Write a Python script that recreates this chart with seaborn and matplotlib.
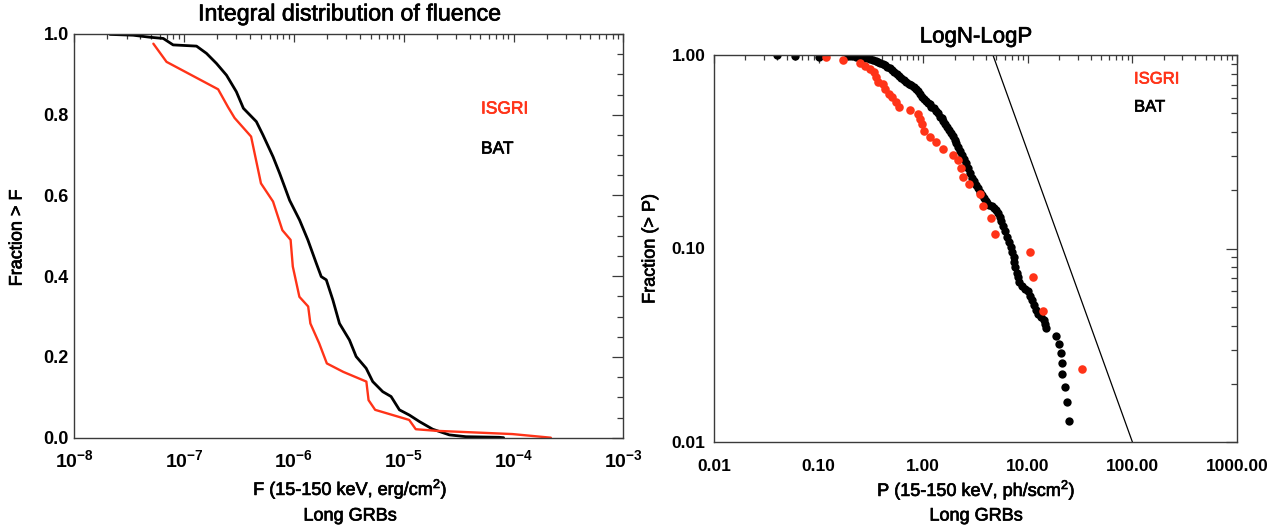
import numpy as np
import pandas as pd
import matplotlib
matplotlib.use("Agg")
import matplotlib.pyplot as plt
import matplotlib.patheffects as pe
import seaborn as sns
from matplotlib.ticker import LogLocator, MultipleLocator, FuncFormatter, NullFormatter, FixedLocator

# ---------------- data ----------------
# Left panel: integral distribution of fluence (log10 F, fraction > F)
bat_logF = [-7.675, -7.464, -7.312, -7.19, -7.10, -6.887, -6.796, -6.705, -6.614, -6.524,
            -6.46, -6.342, -6.282, -6.19, -6.13, -6.085, -6.039, -5.948, -5.873, -5.796,
            -5.751, -5.705, -5.645, -5.585, -5.494, -5.433, -5.342, -5.282, -5.191, -5.115,
            -5.039, -4.948, -4.857, -4.736, -4.585, -4.433, -4.13, -4.09]
bat_fracF = [0.999, 0.997, 0.992, 0.989, 0.973, 0.970, 0.952, 0.927, 0.898, 0.857,
             0.816, 0.783, 0.750, 0.696, 0.655, 0.622, 0.588, 0.539, 0.490, 0.432,
             0.399, 0.391, 0.341, 0.283, 0.242, 0.201, 0.172, 0.139, 0.114, 0.102,
             0.069, 0.056, 0.040, 0.021, 0.007, 0.0025, 0.001, 0.0]

isgri_logF = [-7.28, -7.16, -6.69, -6.60, -6.54, -6.39, -6.30, -6.19, -6.105, -6.03,
              -6.01, -5.95, -5.87, -5.85, -5.77, -5.70, -5.55, -5.34, -5.32, -5.26,
              -4.95, -4.89, -4.70, -4.01, -3.66]
isgri_fracF = [0.976, 0.931, 0.863, 0.819, 0.792, 0.746, 0.630, 0.585, 0.514, 0.490,
               0.424, 0.349, 0.325, 0.283, 0.234, 0.184, 0.163, 0.139, 0.093, 0.069,
               0.044, 0.021, 0.017, 0.009, 0.0]

# Right panel: LogN-LogP (peak flux P, fraction > P)
bat_P = [0.040, 0.060, 0.10, 0.19, 0.21, 0.23, 0.25, 0.27, 0.29, 0.31,
         0.33, 0.35, 0.37, 0.39, 0.41, 0.43, 0.45, 0.48, 0.50, 0.53,
         0.56, 0.59, 0.62, 0.65, 0.69, 0.73, 0.77, 0.81, 0.85, 0.89,
         0.93, 0.97, 1.01, 1.06, 1.10, 1.15, 1.20, 1.26, 1.32, 1.38,
         1.44, 1.50, 1.56, 1.62, 1.68, 1.75, 1.83, 1.91, 2.00, 2.08,
         2.16, 2.25, 2.35, 2.45, 2.56, 2.68, 2.80, 2.92, 3.05, 3.20,
         3.35, 3.50, 3.65, 3.80, 3.95, 4.10, 4.30, 4.50, 4.75, 5.00,
         5.20, 5.40, 5.60, 5.80, 6.00, 6.30, 6.60, 6.90, 7.10, 7.30,
         7.45, 7.60, 7.80, 8.00, 8.30, 8.80, 9.40, 10.0, 10.5, 11.0,
         11.5, 12.0, 12.6, 13.4, 14.2, 14.7, 14.8, 18.7, 19.7, 20.9,
         21.0, 21.3, 22.8, 23.6, 24.5]
bat_fracP = [1.0, 0.99, 0.98, 0.985, 0.985, 0.98, 0.975, 0.97, 0.96, 0.955,
             0.945, 0.935, 0.925, 0.91, 0.90, 0.885, 0.87, 0.855, 0.84, 0.82,
             0.80, 0.78, 0.76, 0.74, 0.725, 0.71, 0.70, 0.685, 0.665, 0.65,
             0.63, 0.61, 0.595, 0.58, 0.565, 0.555, 0.54, 0.53, 0.515, 0.50,
             0.48, 0.47, 0.455, 0.44, 0.425, 0.41, 0.395, 0.38, 0.365, 0.35,
             0.335, 0.32, 0.305, 0.29, 0.275, 0.26, 0.245, 0.232, 0.222, 0.212,
             0.205, 0.197, 0.19, 0.183, 0.177, 0.172, 0.168, 0.165, 0.162, 0.158,
             0.152, 0.145, 0.138, 0.130, 0.123, 0.115, 0.108, 0.102, 0.096, 0.090,
             0.085, 0.080, 0.075, 0.071, 0.067, 0.064, 0.062, 0.060, 0.057, 0.054,
             0.051, 0.048, 0.046, 0.0445, 0.0425, 0.0405, 0.0387, 0.0353, 0.0321, 0.0287,
             0.0257, 0.0225, 0.0192, 0.0161, 0.0129]

isgri_P = [0.118, 0.171, 0.25, 0.28, 0.31, 0.34, 0.355, 0.37, 0.41, 0.43,
           0.47, 0.50, 0.55, 0.59, 0.74, 0.89, 0.93, 0.97, 1.02, 1.17,
           1.34, 1.56, 1.92, 2.16, 2.30, 2.41, 2.77, 3.51, 3.72, 4.40,
           4.88, 10.4, 11.3, 14.1, 32.8]
isgri_fracP = [0.975, 0.945, 0.912, 0.879, 0.851, 0.818, 0.77, 0.725, 0.71, 0.668,
               0.63, 0.605, 0.574, 0.536, 0.521, 0.494, 0.466, 0.438, 0.405, 0.378,
               0.354, 0.328, 0.305, 0.285, 0.26, 0.235, 0.215, 0.191, 0.166, 0.143,
               0.119, 0.0956, 0.0715, 0.0477, 0.0238]

# Euclidean -3/2 reference line
ref_P = [4.64, 100.0]
ref_frac = [1.0, 0.01]

RED = "#ff3318"

# ---------------- style ----------------
sns.set_style("white")
plt.rcParams['font.family'] = ['Liberation Sans', 'DejaVu Sans']
plt.rcParams['mathtext.fontset'] = 'custom'
plt.rcParams['mathtext.rm'] = 'Liberation Sans'
plt.rcParams['mathtext.bf'] = 'Liberation Sans:bold'
plt.rcParams['text.color'] = 'black'
plt.rcParams['axes.labelcolor'] = 'black'
plt.rcParams['xtick.color'] = 'black'
plt.rcParams['ytick.color'] = 'black'

fig = plt.figure(figsize=(12.85, 5.31), dpi=100)
W, H = 1285.0, 531.0

def axes_px(x0, y0, x1, y1):
    return fig.add_axes([x0 / W, 1 - y1 / H, (x1 - x0) / W, (y1 - y0) / H])

ax1 = axes_px(74.3, 34.0, 623.3, 437.7)
ax2 = axes_px(714.0, 55.0, 1237.0, 442.0)

# ---------------- left panel ----------------
left_df_bat = pd.DataFrame({"F": np.power(10.0, bat_logF), "frac": bat_fracF})
left_df_isg = pd.DataFrame({"F": np.power(10.0, isgri_logF), "frac": isgri_fracF})
sns.lineplot(data=left_df_bat, x="F", y="frac", ax=ax1, sort=False, estimator=None,
             color="black", linewidth=2.0)
sns.lineplot(data=left_df_isg, x="F", y="frac", ax=ax1, sort=False, estimator=None,
             color=RED, linewidth=1.7)
ax1.set_xscale("log")
ax1.set_xlim(1e-8, 1e-3)
ax1.set_ylim(0.0, 1.0)
ax1.xaxis.set_major_locator(LogLocator(base=10, numticks=10))
ax1.xaxis.set_minor_locator(LogLocator(base=10, subs=np.arange(2, 10), numticks=20))
ax1.xaxis.set_minor_formatter(NullFormatter())
ax1.xaxis.set_major_formatter(FuncFormatter(lambda v, p: r"$\mathbf{10^{%d}}$" % int(round(np.log10(v)))))
ax1.yaxis.set_major_locator(FixedLocator([0.0, 0.2, 0.4, 0.6, 0.8, 1.0]))
ax1.yaxis.set_minor_locator(MultipleLocator(0.05))
ax1.yaxis.set_major_formatter(FuncFormatter(lambda v, p: "%.1f" % v))
ax1.set_xlabel("")
ax1.set_ylabel("")

# ---------------- right panel ----------------
right_bat = pd.DataFrame({"P": bat_P, "frac": bat_fracP})
right_isg = pd.DataFrame({"P": isgri_P, "frac": isgri_fracP})
sns.lineplot(x=ref_P, y=ref_frac, ax=ax2, sort=False, estimator=None, color="black", linewidth=0.9)
sns.scatterplot(data=right_bat, x="P", y="frac", ax=ax2, color="black", s=36, linewidth=0)
sns.scatterplot(data=right_isg, x="P", y="frac", ax=ax2, color=RED, s=38, linewidth=0)
ax2.set_xscale("log")
ax2.set_yscale("log")
ax2.set_xlim(0.01, 1000)
ax2.set_ylim(0.01, 1.0)
ax2.xaxis.set_major_locator(LogLocator(base=10, numticks=10))
ax2.xaxis.set_minor_locator(LogLocator(base=10, subs=np.arange(2, 10), numticks=20))
ax2.xaxis.set_minor_formatter(NullFormatter())
ax2.xaxis.set_major_formatter(FuncFormatter(lambda v, p: "%.2f" % v))
ax2.yaxis.set_major_locator(FixedLocator([0.01, 0.1, 1.0]))
ax2.yaxis.set_minor_locator(LogLocator(base=10, subs=np.arange(2, 10), numticks=10))
ax2.yaxis.set_minor_formatter(NullFormatter())
ax2.yaxis.set_major_formatter(FuncFormatter(lambda v, p: "%.2f" % v))
ax2.set_xlabel("")
ax2.set_ylabel("")

# ---------------- common axis styling ----------------
for ax in (ax1, ax2):
    for sp in ax.spines.values():
        sp.set_visible(True)
        sp.set_color("#3a3a3a")
        sp.set_linewidth(1.0)
    ax.grid(False)
    ax.tick_params(which="both", direction="in", top=True, right=True,
                   color="#3a3a3a", width=0.9, labelcolor="black")
    ax.tick_params(axis="x", which="major", length=6)
    ax.tick_params(axis="x", which="minor", length=3.3)
    ax.tick_params(axis="y", which="major", length=8)
    ax.tick_params(axis="y", which="minor", length=4.5)
    for lab in ax.get_xticklabels() + ax.get_yticklabels():
        lab.set_fontweight("bold")

ax1.tick_params(axis="x", which="major", labelsize=14, pad=8)
ax1.tick_params(axis="y", which="major", labelsize=13, pad=4)
ax2.tick_params(axis="x", which="major", labelsize=12.5, pad=12)
ax2.tick_params(axis="y", which="major", labelsize=12.5, pad=6)

# ---------------- texts ----------------
def ftext(x, y, s, color="black", **kw):
    fig.text(x / W, 1 - y / H, s, color=color,
             path_effects=[pe.withStroke(linewidth=0.5, foreground=color)], **kw)

ftext(349, 14, "Integral distribution of fluence", ha="center", va="center", fontsize=16.7)
ftext(976, 37, "LogN-LogP", ha="center", va="center", fontsize=16)

ftext(350, 489, "F (15-150 keV, erg/cm$^2$)", ha="center", va="center", fontsize=13)
ftext(350, 516, "Long GRBs", ha="center", va="center", fontsize=13)
ftext(976, 490, "P (15-150 keV, ph/scm$^2$)", ha="center", va="center", fontsize=13)
ftext(976, 516, "Long GRBs", ha="center", va="center", fontsize=13)

ftext(17, 238, "Fraction > F", ha="center", va="center", rotation=90, fontsize=13)
ftext(650, 249, "Fraction (> P)", ha="center", va="center", rotation=90, fontsize=13)

ftext(481, 109, "ISGRI", ha="left", va="center", fontsize=12.5, color=RED)
ftext(481, 149, "BAT", ha="left", va="center", fontsize=12.5, color="black")
ftext(1134, 79, "ISGRI", ha="left", va="center", fontsize=12, color=RED)
ftext(1134, 107, "BAT", ha="left", va="center", fontsize=12, color="black")

fig.savefig("out.png", dpi=100)
